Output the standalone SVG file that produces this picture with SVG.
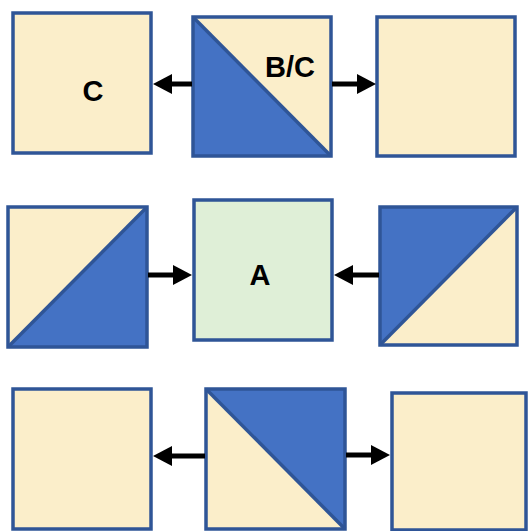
<svg xmlns="http://www.w3.org/2000/svg" width="528" height="531" viewBox="0 0 528 531">
  <style>
    .tan { fill: #FBEECA; }
    .blue { fill: #4472C4; }
    .green { fill: #DFEFD7; }
    .edge { fill: none; stroke: #2F5597; stroke-width: 3.5; }
    .diag { stroke: #2F5597; stroke-width: 3.5; }
    .lbl { font-family: "Liberation Sans", Arial, sans-serif; font-weight: bold; font-size: 29px; fill: #000; text-anchor: middle; }
    .conn { stroke: #000; stroke-width: 5; fill: none; }
  </style>
  <defs>
    <marker id="ah" viewBox="0 0 19 20" refX="1" refY="10" markerWidth="19" markerHeight="20" markerUnits="userSpaceOnUse" orient="auto">
      <path d="M0,0 L19,10 L0,20 z" fill="#000"/>
    </marker>
  </defs>

  <rect width="528" height="531" fill="#fff"/>

  <g id="node-c">
    <rect x="13" y="13" width="138" height="140" class="tan"/>
    <rect x="13" y="13" width="138" height="140" class="edge"/>
    <text x="93" y="101" class="lbl">C</text>
  </g>

  <g id="node-bc">
    <polygon points="193,17 331,17 331,156" class="tan"/>
    <polygon points="193,17 193,156 331,156" class="blue"/>
    <line x1="193" y1="17" x2="331" y2="156" class="diag"/>
    <rect x="193" y="17" width="138" height="139" class="edge"/>
    <text x="290" y="77" class="lbl">B/C</text>
  </g>

  <g id="node-top-right">
    <rect x="377" y="17" width="138" height="139" class="tan"/>
    <rect x="377" y="17" width="138" height="139" class="edge"/>
  </g>

  <g id="node-mid-left">
    <polygon points="8,207 147,207 8,347" class="tan"/>
    <polygon points="147,207 147,347 8,347" class="blue"/>
    <line x1="8" y1="347" x2="147" y2="207" class="diag"/>
    <rect x="8" y="207" width="139" height="140" class="edge"/>
  </g>

  <g id="node-a">
    <rect x="194" y="200" width="138" height="140" class="green"/>
    <rect x="194" y="200" width="138" height="140" class="edge"/>
    <text x="260" y="285" class="lbl">A</text>
  </g>

  <g id="node-mid-right">
    <polygon points="380,207 517,207 380,345" class="blue"/>
    <polygon points="517,207 517,345 380,345" class="tan"/>
    <line x1="380" y1="345" x2="517" y2="207" class="diag"/>
    <rect x="380" y="207" width="137" height="138" class="edge"/>
  </g>

  <g id="node-bottom-left">
    <rect x="13" y="389" width="138" height="140" class="tan"/>
    <rect x="13" y="389" width="138" height="140" class="edge"/>
  </g>

  <g id="node-bottom-mid">
    <polygon points="206,389 206,529 345,529" class="tan"/>
    <polygon points="206,389 345,389 345,529" class="blue"/>
    <line x1="206" y1="389" x2="345" y2="529" class="diag"/>
    <rect x="206" y="389" width="139" height="140" class="edge"/>
  </g>

  <g id="node-bottom-right">
    <rect x="392" y="393" width="134" height="137" class="tan"/>
    <rect x="392" y="393" width="134" height="137" class="edge"/>
  </g>

  <g id="connectors">
    <line x1="192" y1="84" x2="171" y2="84" class="conn" marker-end="url(#ah)"/>
    <line x1="332" y1="84" x2="358" y2="84" class="conn" marker-end="url(#ah)"/>
    <line x1="148" y1="275" x2="174" y2="275" class="conn" marker-end="url(#ah)"/>
    <line x1="379" y1="275" x2="352" y2="275" class="conn" marker-end="url(#ah)"/>
    <line x1="205" y1="456" x2="171" y2="456" class="conn" marker-end="url(#ah)"/>
    <line x1="346" y1="455" x2="372" y2="455" class="conn" marker-end="url(#ah)"/>
  </g>
</svg>
